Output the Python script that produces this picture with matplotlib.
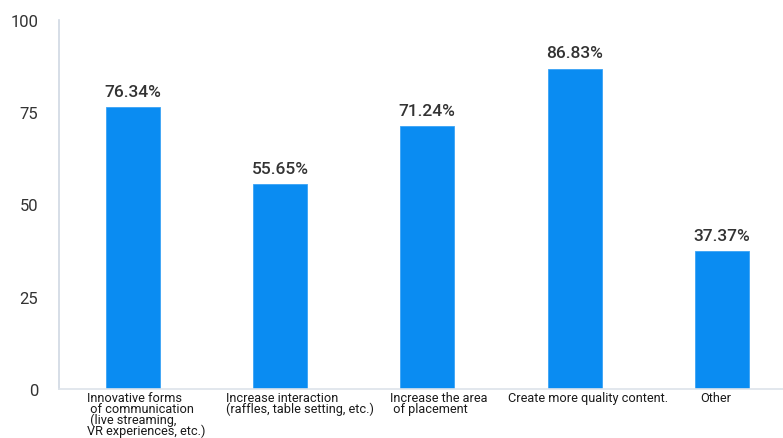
import matplotlib
matplotlib.use("Agg")
import matplotlib.pyplot as plt

# survey results, share of respondents (%)
categories = [
    "Innovative forms\n of communication\n (live streaming,\nVR experiences, etc.)",
    "Increase interaction\n(raffles, table setting, etc.)",
    "Increase the area\n of placement",
    "Create more quality content.",
    "Other",
]
values = [76.34, 55.65, 71.24, 86.83, 37.37]
yticks = [0, 25, 50, 75, 100]

# label left edge relative to bar centre (data units)
label_shift = [-0.31, -0.366, -0.253, -0.452, -0.144]

BLUE = "#0a8cf2"

fig = plt.figure(figsize=(7.83, 4.39), dpi=100)
ax = fig.add_axes([59 / 783, 49 / 439, 724 / 783, 369 / 439])

x = range(len(values))
ax.bar(x, values, width=0.366, color=BLUE, edgecolor="#3aa3f5", linewidth=0.6, zorder=2)

for i, v in enumerate(values):
    ax.text(i, v + 2.2, f"{v:.2f}%", ha="center", va="bottom",
            fontsize=12.5, family=["Roboto", "DejaVu Sans"], fontweight="medium",
            color="#333333")

for i, lab in enumerate(categories):
    ax.text(i + label_shift[i], -0.5, lab, ha="left", va="top",
            multialignment="left", fontsize=9.2, linespacing=0.78,
            family=["Liberation Sans Narrow", "Roboto", "DejaVu Sans"],
            color="#1a1a1a")

ax.set_xlim(-0.5, 4.415)
ax.set_ylim(0, 100)
ax.set_xticks([])
ax.set_yticks(yticks)
ax.set_yticklabels([str(t) for t in yticks], fontsize=12,
                   family=["Roboto", "DejaVu Sans"], color="#333333")
ax.tick_params(axis="y", length=0, pad=15)

for s in ("top", "right"):
    ax.spines[s].set_visible(False)
ax.spines["left"].set_color("#cfd8e3")
ax.spines["bottom"].set_color("#dde3ea")
ax.spines["left"].set_linewidth(1.2)
ax.spines["bottom"].set_linewidth(1.2)

fig.savefig("out.png", dpi=100)
